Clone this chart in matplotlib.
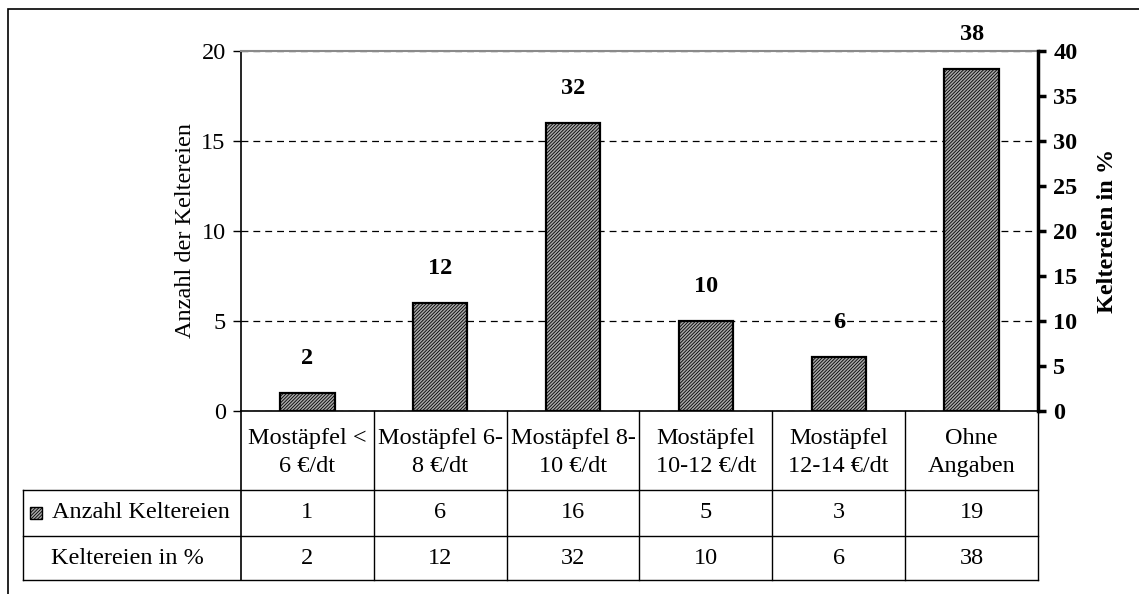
import matplotlib
matplotlib.use("Agg")
import matplotlib.pyplot as plt
import matplotlib.transforms as mtransforms
from matplotlib.patches import Rectangle
from matplotlib.lines import Line2D

plt.rcParams['font.family'] = ['Liberation Serif', 'DejaVu Serif']
plt.rcParams['hatch.color'] = '#505050'
plt.rcParams['hatch.linewidth'] = 0.6

# data
categories = ["Mostäpfel <\n6 €/dt", "Mostäpfel 6-\n8 €/dt", "Mostäpfel 8-\n10 €/dt",
              "Mostäpfel\n10-12 €/dt", "Mostäpfel\n12-14 €/dt", "Ohne\nAngaben"]
anzahl = [1, 6, 16, 5, 3, 19]
prozent = [2, 12, 32, 10, 6, 38]
row_labels = ["Anzahl Keltereien", "Keltereien in %"]
left_ticks = [0, 5, 10, 15, 20]
right_ticks = [0, 5, 10, 15, 20, 25, 30, 35, 40]

W, H = 1139, 594
fig = plt.figure(figsize=(W / 100, H / 100), dpi=100)
fs = 17.5

# outer frame
fig.patches.append(Rectangle((8 / W, -0.05), 1.1, 1 - 9 / H + 0.05, transform=fig.transFigure,
                             fill=False, ec='black', lw=1.2))

ax = fig.add_axes([241 / W, 183 / H, 797 / W, 360 / H])
x = list(range(len(categories)))
ax.bar(x, anzahl, width=0.41, color='#a8a8a8', edgecolor='black', linewidth=1.6,
       hatch='//////////', zorder=3)
ax.set_xlim(-0.5, len(categories) - 0.5)
ax.set_ylim(0, 20)
ax.set_yticks(left_ticks)
ax.tick_params(axis='y', labelsize=fs, length=6, direction='out', width=1, pad=5)
ax.set_xticks([])
ax.yaxis.grid(True, color='black', linestyle=(0, (5.5, 4)), linewidth=0.9, zorder=0)
ax.set_ylabel("Anzahl der Keltereien", fontsize=fs, labelpad=4)
ax.spines['top'].set_color('#8a8a8a')
ax.spines['top'].set_linewidth(1.5)
ax.spines['right'].set_visible(False)
ax.spines['left'].set_linewidth(1.2)
ax.spines['bottom'].set_linewidth(1.2)

ax2 = ax.twinx()
ax2.set_ylim(0, 40)
ax2.set_yticks(right_ticks)
ax2.tick_params(axis='y', labelsize=fs, length=6, width=2.5, direction='out', pad=5)
for lbl in ax2.get_yticklabels():
    lbl.set_fontweight('bold')
ax2.spines['right'].set_linewidth(2.5)
for s in ['top', 'left', 'bottom']:
    ax2.spines[s].set_visible(False)
ax2.set_ylabel("Keltereien in %", fontsize=fs, fontweight='bold', labelpad=14)

# percentage labels above bars
for xi, p in zip(x, prozent):
    ax2.annotate(str(p), (xi, p), xytext=(0, 25), textcoords='offset points',
                 ha='center', va='center', fontsize=fs, fontweight='bold')

# data table under the axis
tr = mtransforms.blended_transform_factory(ax.transData, ax.transAxes)
tra = ax.transAxes
y_head = -79 / 360
y_r1 = -125 / 360
y_r2 = -169 / 360
x_left = -218 / 797
lc = 'black'
lw = 1.0
for yy in [y_head, y_r1, y_r2]:
    ax.add_line(Line2D([x_left, 1], [yy, yy], transform=tra, color=lc, lw=lw, clip_on=False))
ax.add_line(Line2D([x_left, x_left], [y_head, y_r2], transform=tra, color=lc, lw=lw, clip_on=False))
ax.add_line(Line2D([0, 0], [0, y_r2], transform=tra, color=lc, lw=1.2, clip_on=False))
for b in range(1, len(categories) + 1):
    ax.add_line(Line2D([b - 0.5, b - 0.5], [0, y_r2], transform=tr, color=lc, lw=lw, clip_on=False))

for xi, cat, a, p in zip(x, categories, anzahl, prozent):
    ax.text(xi, y_head / 2 - 0.005, cat, transform=tr, ha='center', va='center', fontsize=fs,
            linespacing=1.45, clip_on=False)
    ax.text(xi, (y_head + y_r1) / 2, str(a), transform=tr, ha='center', va='center',
            fontsize=fs, clip_on=False)
    ax.text(xi, (y_r1 + y_r2) / 2, str(p), transform=tr, ha='center', va='center',
            fontsize=fs, clip_on=False)

# legend key and row labels
ax.add_patch(Rectangle((-211 / 797, (y_head + y_r1) / 2 - 6 / 360), 12 / 797, 12 / 360,
                       transform=tra, facecolor='#a8a8a8', edgecolor='black', lw=1,
                       hatch='//////////', clip_on=False))
ax.text(-189 / 797, (y_head + y_r1) / 2, row_labels[0], transform=tra, ha='left', va='center',
        fontsize=fs, clip_on=False)
ax.text(-114 / 797, (y_r1 + y_r2) / 2, row_labels[1], transform=tra, ha='center', va='center',
        fontsize=fs, clip_on=False)

fig.savefig("out.png", dpi=100)
